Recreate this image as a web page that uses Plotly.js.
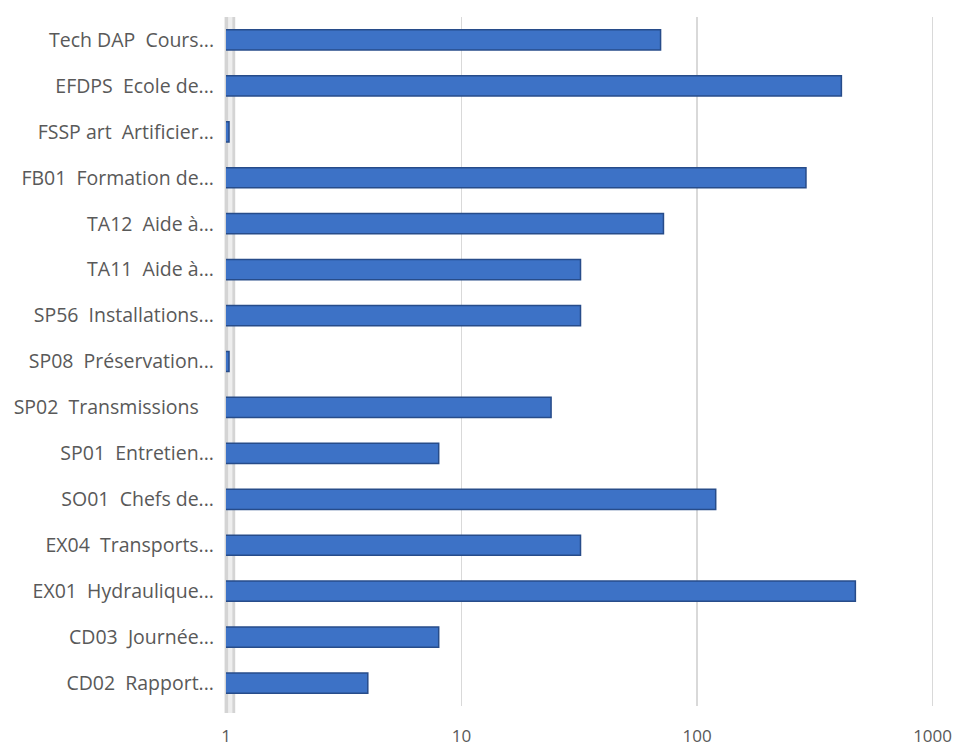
<!DOCTYPE html>
<html>
<head>
<meta charset="utf-8">
<script src="https://cdn.plot.ly/plotly-3.0.1.min.js"></script>
<style>html,body{margin:0;padding:0;background:#fff}#chart{width:956px;height:749px}</style>
</head>
<body>
<div id="chart"></div>
<script>
var categories = [
  "Tech DAP  Cours...",
  "EFDPS  Ecole de...",
  "FSSP art  Artificier...",
  "FB01  Formation de...",
  "TA12  Aide à...",
  "TA11  Aide à...",
  "SP56  Installations...",
  "SP08  Préservation...",
  "SP02  Transmissions   ",
  "SP01  Entretien...",
  "SO01  Chefs de...",
  "EX04  Transports...",
  "EX01  Hydraulique...",
  "CD03  Journée...",
  "CD02  Rapport..."
];
var values = [70, 410, 1.03, 290, 72, 32, 32, 1.03, 24, 8, 120, 32, 470, 8, 4];
var xTickVals = [1, 10, 100, 1000];
var xTickText = ["1", "10", "100", "1000"];

var displayLabels = categories.map(function (c) { return c.replace(/ /g, "\u00a0"); });

var trace = {
  type: "bar",
  orientation: "h",
  y: categories,
  x: values,
  marker: {
    color: "#3d72c6",
    line: { color: "#274c8a", width: 1.5 }
  },
  hoverinfo: "x+y"
};

var layout = {
  width: 956,
  height: 749,
  margin: { l: 226, r: 22, t: 17, b: 43 },
  paper_bgcolor: "#ffffff",
  plot_bgcolor: "#ffffff",
  showlegend: false,
  bargap: 0.56,
  font: { family: "'Open Sans', Lato, sans-serif", color: "#595959", size: 17 },
  xaxis: {
    type: "log",
    range: [0, 3.006],
    tickvals: xTickVals,
    ticktext: xTickText,
    showgrid: true,
    gridcolor: "#d9d9d9",
    gridwidth: 1.5,
    zeroline: false,
    showline: false,
    ticks: "",
    ticklabelstandoff: 18,
    ticklabeloverflow: "allow",
    tickfont: { size: 17, color: "#595959" }
  },
  yaxis: {
    type: "category",
    autorange: "reversed",
    tickvals: categories,
    ticktext: displayLabels,
    showgrid: false,
    zeroline: false,
    showline: false,
    ticks: "",
    ticklabelstandoff: 11,
    tickfont: { size: 19.5, color: "#595959" }
  },
  shapes: [
    {
      type: "rect", xref: "paper", yref: "paper", layer: "below",
      x0: -0.002, x1: 0.013, y0: -0.01, y1: 1.0,
      fillcolor: "#d4d4d4", line: { width: 0 }
    },
    {
      type: "rect", xref: "paper", yref: "paper", layer: "below",
      x0: 0.003, x1: 0.009, y0: -0.01, y1: 1.0,
      fillcolor: "#eeeeee", line: { width: 0 }
    }
  ]
};

Plotly.newPlot("chart", [trace], layout, { displayModeBar: false, staticPlot: true });
</script>
</body>
</html>
